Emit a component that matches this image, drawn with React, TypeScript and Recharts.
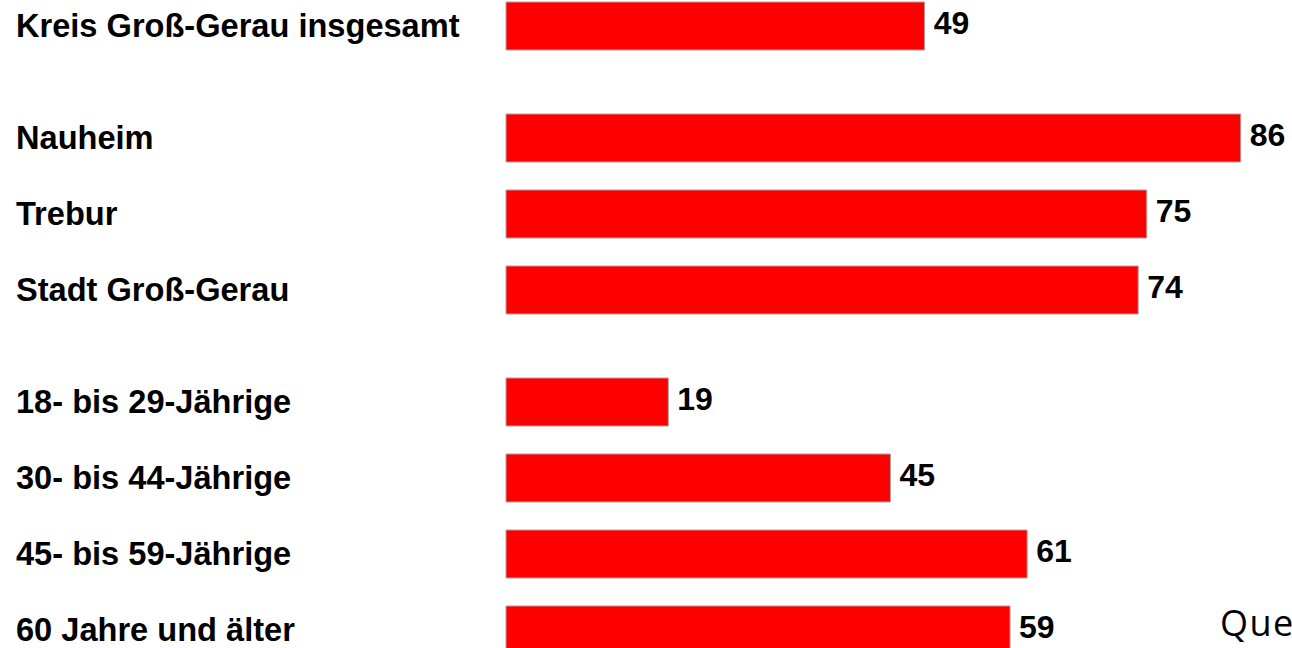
import { BarChart, Bar, XAxis, YAxis, LabelList } from "recharts";

// three blocks of rows, separated by a small gap
const totalLabels = ["Kreis Groß-Gerau insgesamt"];
const totalValues = [49];

const townLabels = ["Nauheim", "Trebur", "Stadt Groß-Gerau"];
const townValues = [86, 75, 74];

const ageLabels = ["18- bis 29-Jährige", "30- bis 44-Jährige", "45- bis 59-Jährige", "60 Jahre und älter"];
const ageValues = [19, 45, 61, 59];

const sourceText = "Quelle: Forsa";

const FONT = "'Liberation Sans', Arial, Helvetica, sans-serif";
const ROW = 76;

function LeftTick({ y, payload }: any) {
  return (
    <text x={16} y={y} dy={11} textAnchor="start" fontFamily={FONT} fontWeight="bold" fontSize={32.6} fill="#000">
      {payload.value}
    </text>
  );
}

function ValueLabel({ x, y, width, height, value }: any) {
  return (
    <text x={x + width + 9} y={y + height / 2} dy={8} textAnchor="start" fontFamily={FONT}
      fontWeight="bold" fontSize={32} fill="#000">
      {value}
    </text>
  );
}

function Block({ labels, values, top }: { labels: string[]; values: number[]; top: number }) {
  const data = labels.map((name, i) => ({ name, value: values[i] }));
  const h = labels.length * ROW;
  return (
    <div style={{ position: "absolute", left: 0, top }}>
      <BarChart width={1292} height={h} data={data} layout="vertical"
        margin={{ top: 0, right: 0, bottom: 0, left: 0 }}>
        <XAxis type="number" domain={[0, 92]} hide />
        <YAxis type="category" dataKey="name" width={506} axisLine={false} tickLine={false}
          tick={<LeftTick />} interval={0} />
        <Bar dataKey="value" fill="#ff0000" stroke="#b0a0a0" strokeWidth={1} barSize={48}
          isAnimationActive={false}>
          <LabelList dataKey="value" content={<ValueLabel />} />
        </Bar>
      </BarChart>
    </div>
  );
}

export default function App() {
  return (
    <div style={{ position: "absolute", left: 0, top: 0, width: 1292, height: 648, overflow: "hidden", background: "#fff" }}>
      <Block labels={totalLabels} values={totalValues} top={-12} />
      <Block labels={townLabels} values={townValues} top={100} />
      <Block labels={ageLabels} values={ageValues} top={364} />
      <div style={{
        position: "absolute", left: 1220, top: 599, fontFamily: "'Open Sans', 'Noto Sans', sans-serif",
        fontSize: 36, lineHeight: "48px", letterSpacing: 1.5, color: "#000", whiteSpace: "nowrap",
      }}>
        {sourceText}
      </div>
    </div>
  );
}
